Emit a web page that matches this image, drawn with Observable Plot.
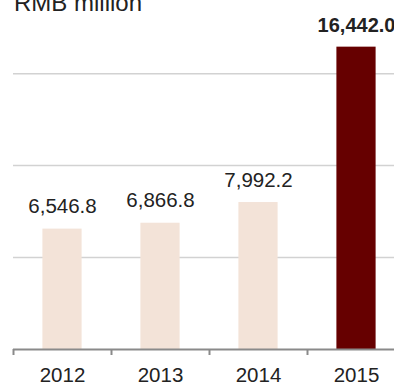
<!DOCTYPE html>
<html>
<head>
<meta charset="utf-8">
<script src="https://cdn.jsdelivr.net/npm/d3@7"></script>
<script src="https://cdn.jsdelivr.net/npm/@observablehq/plot@0.6"></script>
<style>
  html, body { margin: 0; padding: 0; background: #fff; overflow: hidden; }
  #wrap { position: relative; width: 394px; height: 382px; overflow: hidden; font-family: "Liberation Sans", Arial, Helvetica, sans-serif; }
  #title { position: absolute; left: 14px; top: -9px; font-size: 24px; line-height: 24px; color: #222; white-space: nowrap; }
</style>
</head>
<body>
<div id="wrap"><div id="title">RMB million</div><div id="chart"></div></div>
<script>
const years = ["2012", "2013", "2014", "2015"];
const values = [6546.8, 6866.8, 7992.2, 16442.0];
const highlight = [false, false, false, true];
const gridTicks = [5000, 10000, 15000];
const title = "RMB million";

const data = years.map((y, i) => ({year: y, value: values[i], idx: i, hi: highlight[i]}));
const fmt = d3.format(",.1f");
const font = "Liberation Sans, Arial, Helvetica, sans-serif";

const chart = Plot.plot({
  width: 394,
  height: 382,
  marginLeft: 13,
  marginRight: 0,
  marginTop: 18,
  marginBottom: 33,
  style: {fontFamily: font, background: "transparent", overflow: "hidden"},
  x: {domain: [0, 4], range: [13, 405], axis: null},
  y: {domain: [0, 18000], axis: null},
  marks: [
    Plot.ruleY(gridTicks, {stroke: "#d2d2d2", strokeWidth: 1.5}),
    Plot.rectY(data, {
      x1: d => d.idx + 0.3,
      x2: d => d.idx + 0.7,
      y1: 0,
      y2: "value",
      fill: d => d.hi ? "#660000" : "#f3e3d8"
    }),
    Plot.ruleY([0], {stroke: "#8a8a8a", strokeWidth: 2}),
    Plot.axisX({ticks: [0, 1, 2, 3], tickSize: 6, tickFormat: () => "", stroke: "#8a8a8a", strokeWidth: 2, anchor: "bottom", tickPadding: 0}),
    Plot.text(data, {
      x: d => d.idx + 0.5,
      y: d => 0,
      text: "year",
      dy: 32,
      lineAnchor: "bottom",
      fontSize: 20.5,
      fill: "#222"
    }),
    Plot.text(data.filter(d => !d.hi), {
      x: d => d.idx + 0.5,
      y: "value",
      text: d => fmt(d.value),
      dy: -16,
      lineAnchor: "bottom",
      fontSize: 20.5,
      fill: "#222"
    }),
    Plot.text(data.filter(d => d.hi), {
      x: d => d.idx + 0.5,
      y: "value",
      text: d => fmt(d.value),
      dy: -15,
      lineAnchor: "bottom",
      fontSize: 20,
      fontWeight: "bold",
      fill: "#222"
    })
  ]
});
document.getElementById("chart").appendChild(chart);
</script>
</body>
</html>
